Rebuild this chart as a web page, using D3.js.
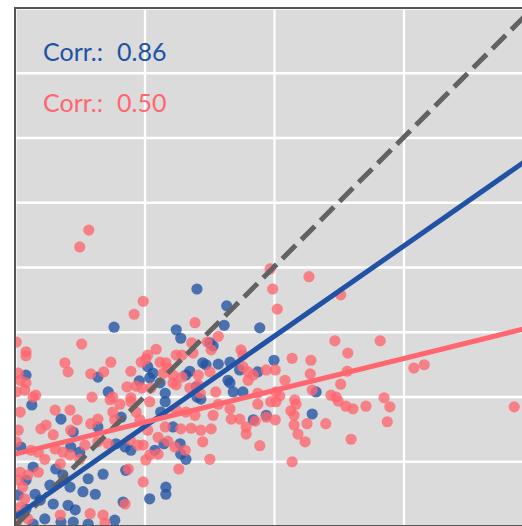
<!DOCTYPE html>
<html>
<head>
<meta charset="utf-8">
<script src="https://d3js.org/d3.v7.min.js"></script>
<style>
  html, body { margin: 0; padding: 0; background: #fff; }
  svg { display: block; }
</style>
</head>
<body>
<div id="chart"></div>
<script>
'use strict';

var bluePoints = [
  [0.281, 0.366], [0.327, 0.340], [0.153, 0.307], [0.249, 0.303], [0.323, 0.310],
  [0.378, 0.306], [0.256, 0.290], [0.301, 0.283], [0.306, 0.278], [0.400, 0.256],
  [0.205, 0.246], [0.208, 0.229], [0.295, 0.249], [0.314, 0.250], [0.332, 0.253],
  [0.264, 0.233], [0.270, 0.239], [0.375, 0.238], [0.329, 0.225], [0.232, 0.205],
  [0.280, 0.215], [0.337, 0.207], [0.352, 0.207], [0.465, 0.207], [0.459, 0.173],
  [0.388, 0.171], [0.128, 0.230], [0.017, 0.233], [0.144, 0.207], [0.192, 0.224],
  [0.290, 0.252], [0.347, 0.241], [0.332, 0.221], [0.213, 0.236], [0.224, 0.221],
  [0.281, 0.199], [0.026, 0.187], [0.232, 0.192], [0.287, 0.196], [0.225, 0.176],
  [0.368, 0.164], [0.244, 0.153], [0.230, 0.127], [0.255, 0.127], [0.216, 0.117],
  [0.256, 0.111], [0.264, 0.103], [0.233, 0.060], [0.233, 0.049], [0.208, 0.042],
  [0.071, 0.165], [0.090, 0.145], [0.128, 0.153], [0.164, 0.168], [0.009, 0.122],
  [0.086, 0.122], [0.100, 0.114], [0.156, 0.127], [0.170, 0.122], [0.179, 0.117],
  [0.028, 0.091], [0.063, 0.088], [0.074, 0.079], [0.017, 0.071], [0.054, 0.063],
  [0.171, 0.086], [0.136, 0.080], [0.113, 0.073], [0.085, 0.060], [0.105, 0.053],
  [0.124, 0.049], [0.031, 0.049], [0.005, 0.048], [0.039, 0.040], [0.059, 0.034],
  [0.082, 0.032], [0.017, 0.026], [0.093, 0.025], [0.167, 0.037], [0.008, 0.017],
  [0.046, 0.011], [0.071, 0.006], [0.090, 0.006], [0.113, 0.003], [0.154, 0.009],
  [0.028, 0.003]
];

var redPoints = [
  [0.114, 0.457], [0.100, 0.431], [0.394, 0.397], [0.454, 0.385], [0.398, 0.366],
  [0.503, 0.357], [0.405, 0.335], [0.198, 0.347], [0.184, 0.327], [0.278, 0.314],
  [0.314, 0.293], [0.303, 0.272], [0.218, 0.273], [0.205, 0.264], [0.275, 0.267],
  [0.249, 0.264], [0.349, 0.272], [0.352, 0.264], [0.233, 0.252], [0.236, 0.244],
  [0.224, 0.253], [0.301, 0.238], [0.352, 0.246], [0.360, 0.238], [0.283, 0.233],
  [0.244, 0.233], [0.368, 0.233], [0.388, 0.241], [0.402, 0.241], [0.360, 0.225],
  [0.249, 0.218], [0.310, 0.207], [0.210, 0.213], [0.375, 0.205],
  [0.002, 0.284], [0.017, 0.269], [0.017, 0.263], [0.103, 0.281], [0.077, 0.252],
  [0.082, 0.238], [0.148, 0.253], [0.117, 0.235], [0.137, 0.238], [0.179, 0.239],
  [0.195, 0.253], [0.202, 0.258], [0.005, 0.236], [0.008, 0.225], [0.017, 0.221],
  [0.015, 0.210], [0.002, 0.207], [0.032, 0.202], [0.119, 0.199], [0.173, 0.215],
  [0.187, 0.216], [0.196, 0.213], [0.151, 0.199], [0.179, 0.198],
  [0.258, 0.264], [0.273, 0.283], [0.297, 0.284], [0.229, 0.236], [0.244, 0.221],
  [0.258, 0.230], [0.270, 0.213], [0.283, 0.218], [0.286, 0.205], [0.062, 0.179],
  [0.085, 0.179], [0.096, 0.164],
  [0.494, 0.286], [0.564, 0.286], [0.514, 0.267], [0.428, 0.259], [0.457, 0.256],
  [0.456, 0.235], [0.513, 0.239], [0.417, 0.225], [0.503, 0.219], [0.459, 0.210],
  [0.403, 0.207], [0.409, 0.201], [0.488, 0.202], [0.496, 0.199], [0.403, 0.192],
  [0.432, 0.195], [0.434, 0.188], [0.499, 0.193], [0.511, 0.185], [0.522, 0.181],
  [0.542, 0.185], [0.570, 0.198], [0.579, 0.184], [0.426, 0.178], [0.431, 0.171],
  [0.402, 0.164], [0.431, 0.156], [0.451, 0.158], [0.480, 0.158], [0.575, 0.161],
  [0.437, 0.142], [0.448, 0.130], [0.519, 0.134], [0.428, 0.099], [0.616, 0.244],
  [0.632, 0.249], [0.771, 0.184], [0.388, 0.168], [0.378, 0.124],
  [0.208, 0.192], [0.314, 0.188], [0.332, 0.181], [0.375, 0.188], [0.395, 0.192],
  [0.249, 0.179], [0.264, 0.176], [0.278, 0.171], [0.306, 0.171], [0.334, 0.165],
  [0.347, 0.165], [0.371, 0.162], [0.205, 0.148], [0.232, 0.153], [0.256, 0.150],
  [0.272, 0.151], [0.287, 0.148], [0.303, 0.150], [0.357, 0.153], [0.357, 0.142],
  [0.221, 0.137], [0.290, 0.130], [0.198, 0.125], [0.236, 0.131], [0.247, 0.122],
  [0.263, 0.117], [0.221, 0.111], [0.208, 0.110], [0.202, 0.102], [0.301, 0.103],
  [0.253, 0.088], [0.198, 0.068],
  [0.028, 0.199], [0.008, 0.176], [0.147, 0.195], [0.162, 0.188], [0.179, 0.192],
  [0.151, 0.176], [0.128, 0.165], [0.117, 0.158], [0.040, 0.150], [0.048, 0.156],
  [0.059, 0.141], [0.086, 0.148], [0.154, 0.164], [0.187, 0.176], [0.193, 0.164],
  [0.005, 0.148], [0.002, 0.130], [0.025, 0.117], [0.036, 0.114], [0.046, 0.103],
  [0.062, 0.119], [0.074, 0.114], [0.085, 0.110], [0.108, 0.125], [0.128, 0.130],
  [0.144, 0.127], [0.178, 0.133], [0.190, 0.125], [0.100, 0.103], [0.070, 0.096],
  [0.036, 0.083], [0.020, 0.079], [0.008, 0.083], [0.005, 0.071], [0.012, 0.060],
  [0.175, 0.088], [0.015, 0.042], [0.008, 0.029], [0.116, 0.019], [0.136, 0.017],
  [0.170, 0.034], [0.020, 0.011], [0.070, 0.017], [0.139, 0.005], [0.002, 0.003]
];

// Linear fits (intercept, slope) for each group.
var blueFit = [0.014, 0.697];
var redFit = [0.111, 0.246];

var corrLabels = ['0.86', '0.50'];

var domainMax = 0.8;

// Layout: the panel is square and runs past the right and bottom edges.
var width = 522,
    height = 526,
    panel = {left: 15, top: 8, size: 518};

var colors = {
  blue: '#2152a3',
  red: '#ff6670',
  panel: '#dbdbdb',
  border: '#555555',
  identity: '#626262'
};

var x = d3.scaleLinear()
    .domain([0, domainMax])
    .range([panel.left, panel.left + panel.size]);
var y = d3.scaleLinear()
    .domain([0, domainMax])
    .range([panel.top + panel.size, panel.top]);

var svg = d3.select('#chart').append('svg')
    .attr('width', width)
    .attr('height', height);

svg.append('defs').append('clipPath')
    .attr('id', 'panel-clip')
  .append('rect')
    .attr('x', panel.left)
    .attr('y', panel.top)
    .attr('width', panel.size)
    .attr('height', panel.size);

svg.append('rect')
    .attr('x', panel.left)
    .attr('y', panel.top)
    .attr('width', panel.size)
    .attr('height', panel.size)
    .attr('fill', colors.panel);

// Grid lines, drawn with axes whose ticks span the panel.
function styleGrid(g) {
  g.select('.domain').remove();
  g.selectAll('.tick line')
      .attr('stroke', '#ffffff')
      .attr('stroke-width', 2.3);
  g.selectAll('.tick text').remove();
}

svg.append('g')
    .attr('transform', 'translate(0,' + (panel.top + panel.size) + ')')
    .call(d3.axisBottom(x).ticks(4).tickSize(-panel.size).tickFormat(''))
    .call(styleGrid);

svg.append('g')
    .attr('transform', 'translate(' + panel.left + ',0)')
    .call(d3.axisLeft(y).ticks(8).tickSize(-panel.size).tickFormat(''))
    .call(styleGrid);

var plot = svg.append('g')
    .attr('clip-path', 'url(#panel-clip)');

function drawPoints(data, color) {
  plot.append('g')
    .selectAll('circle')
    .data(data)
    .enter().append('circle')
      .attr('cx', function(d) { return x(d[0]); })
      .attr('cy', function(d) { return y(d[1]); })
      .attr('r', 5.6)
      .attr('fill', color)
      .attr('fill-opacity', 0.78);
}

drawPoints(bluePoints, colors.blue);
drawPoints(redPoints, colors.red);

var line = d3.line()
    .x(function(d) { return x(d[0]); })
    .y(function(d) { return y(d[1]); });

function fitLine(fit) {
  return [0, domainMax].map(function(v) {
    return [v, fit[0] + fit[1] * v];
  });
}

// y = x reference line.
plot.append('path')
    .datum([[0, 0], [domainMax, domainMax]])
    .attr('d', line)
    .attr('fill', 'none')
    .attr('stroke', colors.identity)
    .attr('stroke-width', 5)
    .attr('stroke-dasharray', '19,8');

plot.append('path')
    .datum(fitLine(blueFit))
    .attr('d', line)
    .attr('fill', 'none')
    .attr('stroke', colors.blue)
    .attr('stroke-width', 5);

plot.append('path')
    .datum(fitLine(redFit))
    .attr('d', line)
    .attr('fill', 'none')
    .attr('stroke', colors.red)
    .attr('stroke-width', 5);

svg.append('rect')
    .attr('x', panel.left)
    .attr('y', panel.top)
    .attr('width', panel.size)
    .attr('height', panel.size)
    .attr('fill', 'none')
    .attr('stroke', colors.border)
    .attr('stroke-width', 2);

// Correlation annotations in the top left corner.
var labels = svg.append('g')
    .attr('font-family', 'Lato, "Open Sans", sans-serif')
    .attr('font-size', 25);

labels.selectAll('text')
    .data(corrLabels)
    .enter().append('text')
      .attr('x', panel.left + 28)
      .attr('y', function(d, i) { return panel.top + 53 + i * 51; })
      .attr('fill', function(d, i) { return i === 0 ? colors.blue : colors.red; })
      .each(function(d) {
        var t = d3.select(this);
        t.append('tspan').text('Corr.:');
        t.append('tspan').attr('dx', 14).text(d);
      });
</script>
</body>
</html>
